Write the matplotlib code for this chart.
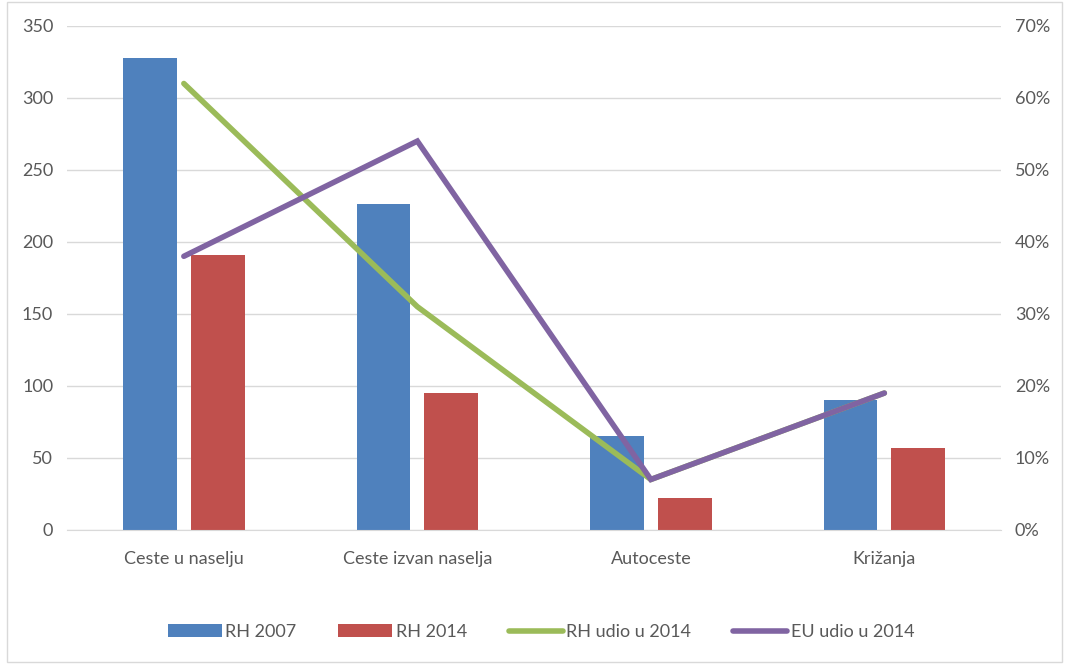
import matplotlib
matplotlib.use("Agg")
import matplotlib.pyplot as plt
from matplotlib.patches import Rectangle
from matplotlib.ticker import FuncFormatter, MultipleLocator
import numpy as np

categories = ["Ceste u naselju", "Ceste izvan naselja", "Autoceste", "Križanja"]
rh_2007 = [328, 226, 65, 90]
rh_2014 = [191, 95, 22, 57]
rh_udio_2014 = [0.62, 0.31, 0.07, 0.19]
eu_udio_2014 = [0.38, 0.54, 0.07, 0.19]

plt.rcParams['font.family'] = ['Lato', 'DejaVu Sans']

fig = plt.figure(figsize=(10.65, 6.64), dpi=100)
ax = fig.add_axes([0.063, 0.202, 0.877, 0.759])
ax2 = ax.twinx()

x = np.arange(len(categories))
w = 0.23
off = 0.145
b1 = ax.bar(x - off, rh_2007, w, color='#4f81bd', label='RH 2007', zorder=2)
b2 = ax.bar(x + off, rh_2014, w, color='#c0504d', label='RH 2014', zorder=2)
l1, = ax2.plot(x, rh_udio_2014, color='#9bbb59', lw=4, label='RH udio u 2014', solid_capstyle='round', solid_joinstyle='miter')
l2, = ax2.plot(x, eu_udio_2014, color='#8064a2', lw=4, label='EU udio u 2014', solid_capstyle='round', solid_joinstyle='miter')

ax.set_xlim(-0.5, 3.5)
ax.set_ylim(0, 350)
ax2.set_ylim(0, 0.70)
ax.yaxis.set_major_locator(MultipleLocator(50))
ax2.yaxis.set_major_locator(MultipleLocator(0.10))
ax2.yaxis.set_major_formatter(FuncFormatter(lambda v, p: f"{v*100:.0f}%"))
ax.set_xticks(x)
ax.set_xticklabels(categories)

ax.grid(axis='y', color='#d9d9d9', lw=1, zorder=0)
ax.set_axisbelow(True)
for a in (ax, ax2):
    for s in a.spines.values():
        s.set_visible(False)
    a.tick_params(length=0, labelsize=13, colors='#595959')
ax.spines['bottom'].set_visible(True)
ax.spines['bottom'].set_color('#d9d9d9')
ax.tick_params(axis='x', pad=15)
ax.tick_params(axis='y', pad=10)
ax2.tick_params(axis='y', pad=10)

fig.legend(handles=[b1, b2, l1, l2], loc='center', bbox_to_anchor=(0.508, 0.048),
           ncol=4, frameon=False, fontsize=13, labelcolor='#595959',
           handlelength=3.0, handletextpad=0.2, columnspacing=2.3)

fig.patches.append(Rectangle((0.007, 0.003), 0.99, 0.994, transform=fig.transFigure,
                             fill=False, edgecolor='#d9d9d9', lw=1))

fig.savefig('out.png', dpi=100)
